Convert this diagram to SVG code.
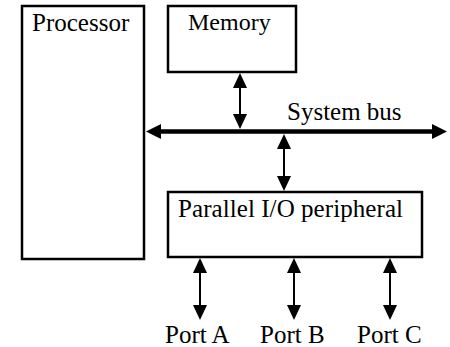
<svg xmlns="http://www.w3.org/2000/svg" width="450" height="347" viewBox="0 0 450 347">
<style>
.box{fill:#fff;stroke:#000;stroke-width:2.5}
.lbl{font-family:"Liberation Serif","Times New Roman",serif;font-size:25px;fill:#000}
.arr{stroke:#000;stroke-width:2}
.bus{stroke:#000;stroke-width:4.5}
.head{fill:#000}
</style>
<rect width="450" height="347" fill="#fff"/>
<g id="processor">
<rect class="box" x="22" y="6" width="122" height="253"/>
<text class="lbl" x="32" y="31">Processor</text>
</g>
<g id="memory">
<rect class="box" x="168" y="6" width="128" height="66"/>
<text class="lbl" x="188" y="30" style="font-size:24px">Memory</text>
</g>
<g id="peripheral">
<rect class="box" x="168" y="192" width="254" height="65"/>
<text class="lbl" x="178" y="217" textLength="225">Parallel I/O peripheral</text>
</g>
<g id="ports">
<text class="lbl" x="165" y="343">Port A</text>
<text class="lbl" x="260" y="343">Port B</text>
<text class="lbl" x="357" y="343">Port C</text>
</g>
<g id="connectors">
<line class="bus" x1="158" y1="131.5" x2="435" y2="131.5"/>
<polygon class="head" points="146,131.5 161,124 161,139"/>
<polygon class="head" points="447,131.5 432,124 432,139"/>
<text class="lbl" x="287" y="120">System bus</text>
<line class="arr" x1="240" y1="85" x2="240" y2="117"/>
<polygon class="head" points="240,73 233,88 247,88"/>
<polygon class="head" points="240,129 233,114 247,114"/>
<line class="arr" x1="284" y1="146" x2="284" y2="180"/>
<polygon class="head" points="284,134 277,149 291,149"/>
<polygon class="head" points="284,191 277,176 291,176"/>
<line class="arr" x1="200" y1="270" x2="200" y2="308"/>
<polygon class="head" points="200,258 193,273 207,273"/>
<polygon class="head" points="200,320 193,305 207,305"/>
<line class="arr" x1="294" y1="270" x2="294" y2="308"/>
<polygon class="head" points="294,258 287,273 301,273"/>
<polygon class="head" points="294,320 287,305 301,305"/>
<line class="arr" x1="390" y1="270" x2="390" y2="308"/>
<polygon class="head" points="390,258 383,273 397,273"/>
<polygon class="head" points="390,320 383,305 397,305"/>
</g>
</svg>
